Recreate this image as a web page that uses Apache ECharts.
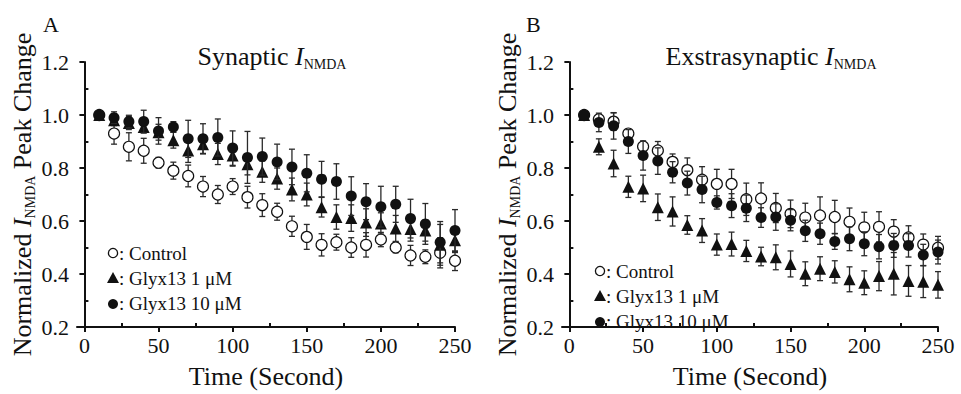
<!DOCTYPE html>
<html>
<head>
<meta charset="utf-8">
<script src="https://cdn.jsdelivr.net/npm/echarts@6/dist/echarts.min.js"></script>
<style>
html,body{margin:0;padding:0;background:#fff;}
#chart{width:961px;height:394px;}
</style>
</head>
<body>
<div id="chart"></div>
<script>
// ---- Data ----
var times = [10,20,30,40,50,60,70,80,90,100,110,120,130,140,150,160,170,180,190,200,210,220,230,240,250];
var xTickLabels = [0,50,100,150,200,250];
var xMinorTicks = [25,75,125,175,225];
var yMinorTicks = [0.3,0.5,0.7,0.9,1.1];
var seriesNames = ['Control','Glyx13 1 μM','Glyx13 10 μM'];

// Panel A: Synaptic
var ctrlA    = [1.0,0.93,0.88,0.865,0.82,0.79,0.77,0.73,0.70,0.73,0.69,0.66,0.635,0.58,0.54,0.51,0.52,0.50,0.51,0.53,0.50,0.47,0.465,0.48,0.45];
var ctrlAErr = [0.01,0.04,0.053,0.047,0.02,0.032,0.041,0.038,0.034,0.03,0.041,0.043,0.032,0.038,0.047,0.042,0.03,0.037,0.046,0.027,0.02,0.038,0.026,0.057,0.037];
var g1A      = [1.0,0.98,0.97,0.955,0.935,0.905,0.866,0.89,0.853,0.847,0.814,0.786,0.76,0.719,0.70,0.652,0.615,0.611,0.594,0.591,0.572,0.57,0.564,0.51,0.527];
var g1AErr   = [0.01,0.02,0.025,0.022,0.03,0.03,0.045,0.035,0.04,0.04,0.04,0.04,0.04,0.043,0.043,0.037,0.046,0.05,0.052,0.04,0.049,0.046,0.04,0.077,0.046];
var g10A     = [1.0,0.99,0.975,0.975,0.94,0.955,0.91,0.91,0.915,0.875,0.84,0.843,0.823,0.804,0.78,0.758,0.749,0.694,0.673,0.654,0.663,0.609,0.589,0.52,0.564];
var g10AErr  = [0.01,0.022,0.024,0.043,0.05,0.02,0.07,0.057,0.07,0.065,0.098,0.07,0.067,0.067,0.07,0.067,0.067,0.073,0.068,0.077,0.068,0.073,0.077,0.078,0.079];

// Panel B: Extrasynaptic
var ctrlB    = [1.0,0.984,0.975,0.93,0.881,0.866,0.823,0.792,0.756,0.74,0.74,0.682,0.685,0.649,0.627,0.613,0.621,0.615,0.597,0.576,0.578,0.56,0.538,0.511,0.499];
var ctrlBErr = [0.01,0.018,0.033,0.012,0.02,0.034,0.03,0.046,0.049,0.055,0.055,0.061,0.059,0.055,0.052,0.054,0.07,0.063,0.052,0.057,0.057,0.045,0.044,0.04,0.043];
var g1B      = [1.0,0.88,0.817,0.729,0.723,0.652,0.636,0.585,0.564,0.511,0.513,0.487,0.466,0.463,0.438,0.401,0.42,0.408,0.38,0.367,0.392,0.401,0.374,0.371,0.359];
var g1BErr   = [0.01,0.03,0.05,0.04,0.05,0.05,0.055,0.035,0.045,0.04,0.045,0.04,0.035,0.047,0.049,0.045,0.045,0.042,0.047,0.045,0.055,0.08,0.058,0.06,0.05];
var g10B     = [1.0,0.972,0.959,0.90,0.847,0.826,0.784,0.743,0.719,0.67,0.658,0.648,0.613,0.615,0.603,0.563,0.552,0.523,0.533,0.514,0.503,0.508,0.508,0.472,0.483];
var g10BErr  = [0.01,0.035,0.05,0.045,0.055,0.05,0.04,0.045,0.05,0.025,0.045,0.05,0.037,0.05,0.04,0.04,0.04,0.03,0.045,0.045,0.046,0.045,0.044,0.04,0.045];

// ---- Helpers ----
var FONT = 'Liberation Serif';
var INK = '#111';

function pts(vals){ return times.map(function(t,i){ return [t, vals[i]]; }); }
function errs(vals, e){ return times.map(function(t,i){ return [t, vals[i]-e[i], vals[i]+e[i]]; }); }

function errRender(params, api){
  var x = api.value(0);
  var lo = api.coord([x, api.value(1)]);
  var hi = api.coord([x, api.value(2)]);
  var w = 3;
  var st = {stroke:'#2a2a2a', lineWidth:1.3};
  return {type:'group', children:[
    {type:'line', shape:{x1:lo[0],y1:lo[1],x2:hi[0],y2:hi[1]}, style:st},
    {type:'line', shape:{x1:lo[0]-w,y1:lo[1],x2:lo[0]+w,y2:lo[1]}, style:st},
    {type:'line', shape:{x1:hi[0]-w,y1:hi[1],x2:hi[0]+w,y2:hi[1]}, style:st}
  ]};
}

var styles = [
  {symbol:'circle', size:11, itemStyle:{color:'#fff', borderColor:'#111', borderWidth:1.2, opacity:1}},
  {symbol:'triangle', size:12, itemStyle:{color:'#111', borderColor:'#111', borderWidth:0, opacity:1}},
  {symbol:'circle', size:11, itemStyle:{color:'#111', borderColor:'#111', borderWidth:0, opacity:1}}
];

function makeSeries(axisIdx, vals, errsArr){
  var out = [];
  for (var k=0;k<3;k++){
    out.push({
      type:'custom', name:seriesNames[k]+' err', xAxisIndex:axisIdx, yAxisIndex:axisIdx,
      renderItem: errRender, data: errs(vals[k], errsArr[k]), encode:{x:0, y:[1,2]},
      silent:true, z:2+k*2
    });
    out.push({
      type:'scatter', name:seriesNames[k], xAxisIndex:axisIdx, yAxisIndex:axisIdx,
      symbol: styles[k].symbol, symbolSize: styles[k].size, itemStyle: styles[k].itemStyle,
      emphasis:{disabled:true}, silent:true,
      data: pts(vals[k]), z:3+k*2
    });
  }
  return out;
}

var richName = {
  n:{fontFamily:FONT, fontSize:26, fontWeight:'normal', color:INK, lineHeight:30},
  i:{fontFamily:FONT, fontSize:26, fontWeight:'normal', fontStyle:'italic', color:INK, lineHeight:30},
  s:{fontFamily:FONT, fontSize:14, fontWeight:'normal', color:INK, lineHeight:30, verticalAlign:'bottom'}
};

function xMain(grid){
  return {
    type:'value', gridIndex:grid, min:-5, max:250, position:'bottom',
    axisLine:{show:true, lineStyle:{color:INK, width:2}},
    axisTick:{show:true, customValues:xTickLabels, length:5, inside:false, lineStyle:{color:INK, width:2}},
    axisLabel:{customValues:xTickLabels, fontFamily:FONT, fontSize:22, color:INK, margin:7},
    splitLine:{show:false},
    name:'Time (Second)', nameLocation:'middle', nameGap:36,
    nameTextStyle:{fontFamily:FONT, fontSize:26, color:INK}
  };
}
function xMinor(grid){
  return {
    type:'value', gridIndex:grid, min:-5, max:250, position:'bottom',
    axisLine:{show:false},
    axisTick:{show:true, customValues:xMinorTicks, length:4, inside:true, lineStyle:{color:INK, width:2}},
    axisLabel:{show:false}, splitLine:{show:false}
  };
}
function yMain(grid){
  return {
    type:'value', gridIndex:grid, min:0.2, max:1.2, interval:0.2, position:'left',
    axisLine:{show:true, lineStyle:{color:INK, width:2}},
    axisTick:{show:true, length:5, inside:false, lineStyle:{color:INK, width:2}},
    axisLabel:{fontFamily:FONT, fontSize:22, color:INK, margin:8, formatter:function(v){return v.toFixed(1);}},
    splitLine:{show:false},
    name:'{n|Normalized }{i|I}{s|NMDA}{n| Peak Change}', nameLocation:'middle', nameGap:29, nameRotate:90,
    nameTextStyle:{rich:richName}
  };
}
function yMinor(grid){
  return {
    type:'value', gridIndex:grid, min:0.2, max:1.2, position:'left',
    axisLine:{show:false},
    axisTick:{show:true, customValues:yMinorTicks, length:4, inside:true, lineStyle:{color:INK, width:2}},
    axisLabel:{show:false}, splitLine:{show:false}
  };
}

// Legend drawn as graphic elements (key symbols + text)
function legendGraphic(x0, y0){
  var step = 25, children = [];
  for (var k=0;k<3;k++){
    var cy = y0 + k*step, sym;
    if (k === 0) sym = {type:'circle', shape:{cx:x0, cy:cy, r:4.6}, style:{fill:'#fff', stroke:INK, lineWidth:1.3}};
    else if (k === 1) sym = {type:'polygon', shape:{points:[[x0,cy-6],[x0+6,cy+5],[x0-6,cy+5]]}, style:{fill:INK}};
    else sym = {type:'circle', shape:{cx:x0, cy:cy+1, r:5}, style:{fill:INK}};
    children.push(sym);
    children.push({type:'text', x:x0+6, y:cy, style:{text:': '+seriesNames[k], font:'19px "Liberation Serif"', fill:INK, verticalAlign:'middle', align:'left'}});
  }
  return {type:'group', silent:true, z:100, children:children};
}

var chart = echarts.init(document.getElementById('chart'), null, {renderer:'svg'});
var option = {
  backgroundColor:'#fff',
  animation:false,
  title:[
    {text:'{n|Synaptic }{i|I}{s|NMDA}', left:267, top:36, textAlign:'center', textStyle:{fontWeight:'normal', rich:richName}},
    {text:'{n|Exstrasynaptic }{i|I}{s|NMDA}', left:766, top:36, textAlign:'center', textStyle:{fontWeight:'normal', rich:richName}},
    {text:'A', left:38, top:8, textStyle:{fontFamily:FONT, fontSize:22, fontWeight:'normal', color:INK}},
    {text:'B', left:521, top:8, textStyle:{fontFamily:FONT, fontSize:22, fontWeight:'normal', color:INK}}
  ],
  graphic:[ legendGraphic(113, 253), legendGraphic(600, 271) ],
  grid:[
    {left:77, top:62, width:378, height:273},
    {left:562, top:62, width:376, height:273}
  ],
  xAxis:[xMain(0), xMain(1), xMinor(0), xMinor(1)],
  yAxis:[yMain(0), yMain(1), yMinor(0), yMinor(1)],
  series: makeSeries(0, [ctrlA,g1A,g10A], [ctrlAErr,g1AErr,g10AErr])
    .concat(makeSeries(1, [ctrlB,g1B,g10B], [ctrlBErr,g1BErr,g10BErr]))
};
chart.setOption(option);
</script>
</body>
</html>
